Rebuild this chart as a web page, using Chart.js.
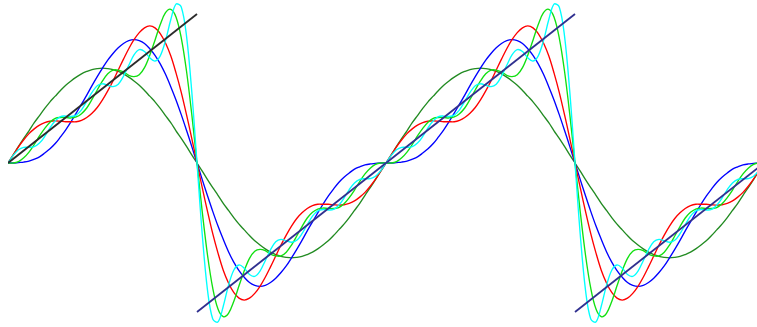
<!DOCTYPE html>
<html>
<head>
<meta charset="utf-8">
<script src="https://cdn.jsdelivr.net/npm/chart.js@4"></script>
<style>
  html, body { margin: 0; padding: 0; background: #fff; }
  #wrap { width: 757px; height: 327px; }
</style>
</head>
<body>
<div id="wrap"><canvas id="chart" width="757" height="327"></canvas></div>
<script>
// angle in degrees, sampled every 5 deg over two periods
const angleDeg = [
  0, 5, 10, 15, 20, 25, 30, 35, 40, 45, 50, 55, 60, 65, 70, 75, 80, 85, 90, 95, 100, 105, 110, 115, 120, 125, 130, 135, 140, 145, 150, 155, 160, 165, 170, 175, 180,
  185, 190, 195, 200, 205, 210, 215, 220, 225, 230, 235, 240, 245, 250, 255, 260, 265, 270, 275, 280, 285, 290, 295, 300, 305, 310, 315, 320, 325, 330, 335, 340, 345, 350, 355, 360,
  365, 370, 375, 380, 385, 390, 395, 400, 405, 410, 415, 420, 425, 430, 435, 440, 445, 450, 455, 460, 465, 470, 475, 480, 485, 490, 495, 500, 505, 510, 515, 520, 525, 530, 535, 540,
  545, 550, 555, 560, 565, 570, 575, 580, 585, 590, 595, 600, 605, 610, 615, 620, 625, 630, 635, 640, 645, 650, 655, 660, 665, 670, 675, 680, 685, 690, 695, 700, 705, 710, 715, 720
];

// partial sums with 1, 2, 3, 6 and 9 terms
const terms1 = [
  0, 0.17, 0.35, 0.52, 0.68, 0.85, 1, 1.15, 1.29, 1.41, 1.53, 1.64, 1.73, 1.81, 1.88, 1.93, 1.97, 1.99, 2, 1.99, 1.97, 1.93, 1.88, 1.81, 1.73, 1.64, 1.53, 1.41, 1.29, 1.15, 1, 0.85, 0.68, 0.52, 0.35, 0.17, 0,
  -0.17, -0.35, -0.52, -0.68, -0.85, -1, -1.15, -1.29, -1.41, -1.53, -1.64, -1.73, -1.81, -1.88, -1.93, -1.97, -1.99, -2, -1.99, -1.97, -1.93, -1.88, -1.81, -1.73, -1.64, -1.53, -1.41, -1.29, -1.15, -1, -0.85, -0.68, -0.52, -0.35, -0.17, 0,
  0.17, 0.35, 0.52, 0.68, 0.85, 1, 1.15, 1.29, 1.41, 1.53, 1.64, 1.73, 1.81, 1.88, 1.93, 1.97, 1.99, 2, 1.99, 1.97, 1.93, 1.88, 1.81, 1.73, 1.64, 1.53, 1.41, 1.29, 1.15, 1, 0.85, 0.68, 0.52, 0.35, 0.17, 0,
  -0.17, -0.35, -0.52, -0.68, -0.85, -1, -1.15, -1.29, -1.41, -1.53, -1.64, -1.73, -1.81, -1.88, -1.93, -1.97, -1.99, -2, -1.99, -1.97, -1.93, -1.88, -1.81, -1.73, -1.64, -1.53, -1.41, -1.29, -1.15, -1, -0.85, -0.68, -0.52, -0.35, -0.17, 0
];
const terms2 = [
  0, 0, 0.01, 0.02, 0.04, 0.08, 0.13, 0.21, 0.30, 0.41, 0.55, 0.70, 0.87, 1.05, 1.24, 1.43, 1.63, 1.82, 2, 2.17, 2.31, 2.43, 2.52, 2.58, 2.60, 2.58, 2.52, 2.41, 2.27, 2.09, 1.87, 1.61, 1.33, 1.02, 0.69, 0.35, 0,
  -0.35, -0.69, -1.02, -1.33, -1.61, -1.87, -2.09, -2.27, -2.41, -2.52, -2.58, -2.60, -2.58, -2.52, -2.43, -2.31, -2.17, -2, -1.82, -1.63, -1.43, -1.24, -1.05, -0.87, -0.70, -0.55, -0.41, -0.30, -0.21, -0.13, -0.08, -0.04, -0.02, -0.01, 0, 0,
  0, 0.01, 0.02, 0.04, 0.08, 0.13, 0.21, 0.30, 0.41, 0.55, 0.70, 0.87, 1.05, 1.24, 1.43, 1.63, 1.82, 2, 2.17, 2.31, 2.43, 2.52, 2.58, 2.60, 2.58, 2.52, 2.41, 2.27, 2.09, 1.87, 1.61, 1.33, 1.02, 0.69, 0.35, 0,
  -0.35, -0.69, -1.02, -1.33, -1.61, -1.87, -2.09, -2.27, -2.41, -2.52, -2.58, -2.60, -2.58, -2.52, -2.43, -2.31, -2.17, -2, -1.82, -1.63, -1.43, -1.24, -1.05, -0.87, -0.70, -0.55, -0.41, -0.30, -0.21, -0.13, -0.08, -0.04, -0.02, -0.01, 0, 0
];
const terms3 = [
  0, 0.17, 0.34, 0.49, 0.62, 0.72, 0.80, 0.85, 0.88, 0.89, 0.88, 0.87, 0.87, 0.87, 0.90, 0.96, 1.05, 1.17, 1.33, 1.52, 1.73, 1.96, 2.19, 2.41, 2.60, 2.75, 2.85, 2.89, 2.85, 2.73, 2.53, 2.26, 1.90, 1.49, 1.02, 0.52, 0,
  -0.52, -1.02, -1.49, -1.90, -2.26, -2.53, -2.73, -2.85, -2.89, -2.85, -2.75, -2.60, -2.41, -2.19, -1.96, -1.73, -1.52, -1.33, -1.17, -1.05, -0.96, -0.90, -0.87, -0.87, -0.87, -0.88, -0.89, -0.88, -0.85, -0.80, -0.72, -0.62, -0.49, -0.34, -0.17, 0,
  0.17, 0.34, 0.49, 0.62, 0.72, 0.80, 0.85, 0.88, 0.89, 0.88, 0.87, 0.87, 0.87, 0.90, 0.96, 1.05, 1.17, 1.33, 1.52, 1.73, 1.96, 2.19, 2.41, 2.60, 2.75, 2.85, 2.89, 2.85, 2.73, 2.53, 2.26, 1.90, 1.49, 1.02, 0.52, 0,
  -0.52, -1.02, -1.49, -1.90, -2.26, -2.53, -2.73, -2.85, -2.89, -2.85, -2.75, -2.60, -2.41, -2.19, -1.96, -1.73, -1.52, -1.33, -1.17, -1.05, -0.96, -0.90, -0.87, -0.87, -0.87, -0.88, -0.89, -0.88, -0.85, -0.80, -0.72, -0.62, -0.49, -0.34, -0.17, 0
];
const terms6 = [
  0, 0, 0.03, 0.11, 0.23, 0.39, 0.57, 0.73, 0.86, 0.94, 0.96, 0.96, 0.95, 0.97, 1.04, 1.16, 1.34, 1.54, 1.73, 1.88, 1.96, 1.96, 1.92, 1.85, 1.82, 1.86, 2.01, 2.27, 2.59, 2.92, 3.17, 3.24, 3.08, 2.64, 1.94, 1.03, 0,
  -1.03, -1.94, -2.64, -3.08, -3.24, -3.17, -2.92, -2.59, -2.27, -2.01, -1.86, -1.82, -1.85, -1.92, -1.96, -1.96, -1.88, -1.73, -1.54, -1.34, -1.16, -1.04, -0.97, -0.95, -0.96, -0.96, -0.94, -0.86, -0.73, -0.57, -0.39, -0.23, -0.11, -0.03, 0, 0,
  0, 0.03, 0.11, 0.23, 0.39, 0.57, 0.73, 0.86, 0.94, 0.96, 0.96, 0.95, 0.97, 1.04, 1.16, 1.34, 1.54, 1.73, 1.88, 1.96, 1.96, 1.92, 1.85, 1.82, 1.86, 2.01, 2.27, 2.59, 2.92, 3.17, 3.24, 3.08, 2.64, 1.94, 1.03, 0,
  -1.03, -1.94, -2.64, -3.08, -3.24, -3.17, -2.92, -2.59, -2.27, -2.01, -1.86, -1.82, -1.85, -1.92, -1.96, -1.96, -1.88, -1.73, -1.54, -1.34, -1.16, -1.04, -0.97, -0.95, -0.96, -0.96, -0.94, -0.86, -0.73, -0.57, -0.39, -0.23, -0.11, -0.03, 0, 0
];
const terms9 = [
  0, 0.16, 0.28, 0.33, 0.33, 0.345, 0.42, 0.56, 0.74, 0.89, 0.98, 0.99, 0.98, 1.01, 1.12, 1.30, 1.49, 1.63, 1.67, 1.64, 1.61, 1.66, 1.83, 2.06, 2.28, 2.39, 2.35, 2.22, 2.15, 2.26, 2.58, 3.02, 3.35, 3.29, 2.68, 1.51, 0,
  -1.51, -2.68, -3.29, -3.35, -3.02, -2.58, -2.26, -2.15, -2.22, -2.35, -2.39, -2.28, -2.06, -1.83, -1.66, -1.61, -1.64, -1.67, -1.63, -1.49, -1.30, -1.12, -1.01, -0.98, -0.99, -0.98, -0.89, -0.74, -0.56, -0.42, -0.345, -0.33, -0.33, -0.28, -0.16, 0,
  0.16, 0.28, 0.33, 0.33, 0.345, 0.42, 0.56, 0.74, 0.89, 0.98, 0.99, 0.98, 1.01, 1.12, 1.30, 1.49, 1.63, 1.67, 1.64, 1.61, 1.66, 1.83, 2.06, 2.28, 2.39, 2.35, 2.22, 2.15, 2.26, 2.58, 3.02, 3.35, 3.29, 2.68, 1.51, 0,
  -1.51, -2.68, -3.29, -3.35, -3.02, -2.58, -2.26, -2.15, -2.22, -2.35, -2.39, -2.28, -2.06, -1.83, -1.66, -1.61, -1.64, -1.67, -1.63, -1.49, -1.30, -1.12, -1.01, -0.98, -0.99, -0.98, -0.89, -0.74, -0.56, -0.42, -0.345, -0.33, -0.33, -0.28, -0.16, 0
];

// the sawtooth itself, as three straight pieces
const sawDeg = [0, 180, 180, 540, 540, 720];
const sawVal = [0, 3.1416, -3.1416, 3.1416, -3.1416, 0];

const seriesList = [terms9, terms6, terms3, terms2, terms1];
const seriesColors = ['#00ffff', '#11e011', '#ff0000', '#0000ff', '#228b22'];
const sawColors = ['#2b2b2b', '#30308f', '#30308f'];

function toPoints(ys) {
  return ys.map((y, i) => ({ x: angleDeg[i], y: y }));
}

const datasets = [];
for (let i = 0; i < sawDeg.length; i += 2) {
  datasets.push({
    data: [{ x: sawDeg[i], y: sawVal[i] }, { x: sawDeg[i + 1], y: sawVal[i + 1] }],
    borderColor: sawColors[i / 2],
    borderWidth: 1.8,
    tension: 0
  });
}
seriesList.forEach((ys, i) => {
  datasets.push({
    data: toPoints(ys),
    borderColor: seriesColors[i],
    borderWidth: 1.35,
    tension: 0.35
  });
});

new Chart(document.getElementById('chart').getContext('2d'), {
  type: 'line',
  data: { datasets: datasets },
  options: {
    responsive: false,
    animation: false,
    layout: { padding: { left: 8, right: 0, top: 0, bottom: 0 } },
    elements: { point: { radius: 0 } },
    plugins: { legend: { display: false }, tooltip: { enabled: false } },
    scales: {
      x: { type: 'linear', min: 0, max: 713.33, display: false },
      y: { min: -3.458, max: 3.437, display: false }
    }
  }
});
</script>
</body>
</html>
